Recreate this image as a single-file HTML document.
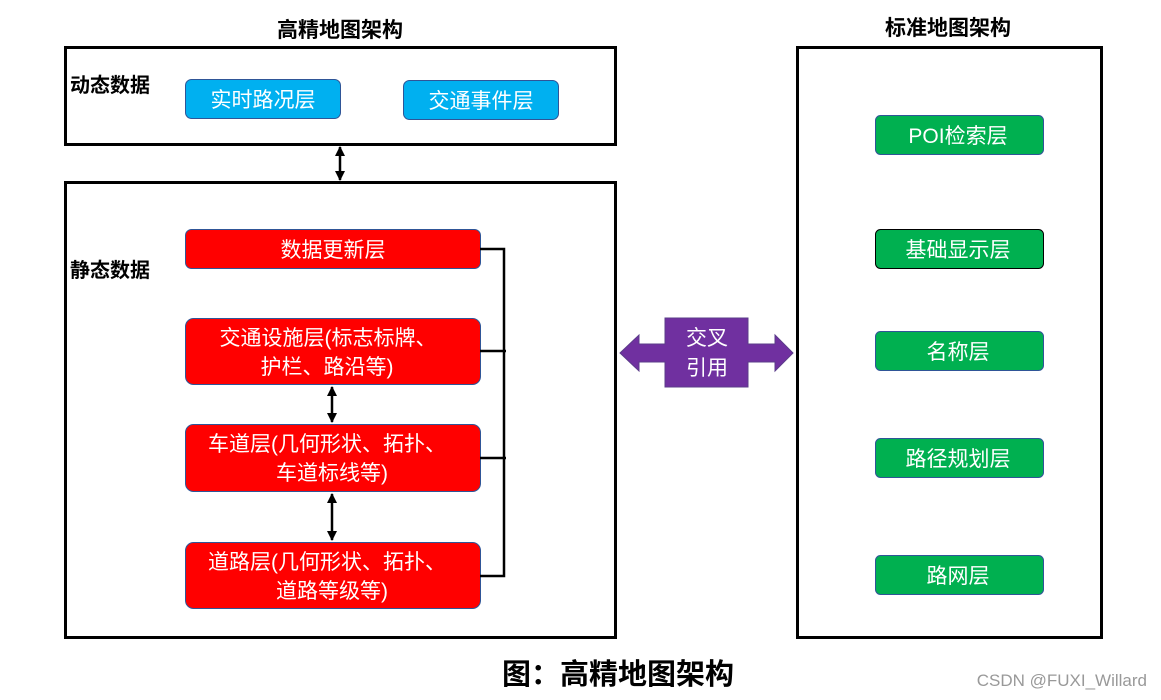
<!DOCTYPE html>
<html><head><meta charset="utf-8"><style>
html,body{margin:0;padding:0;background:#fff;width:1161px;height:700px;overflow:hidden}
svg{display:block}
text{font-family:"Liberation Sans","Noto Sans CJK SC",sans-serif}
</style></head><body>
<svg width="1161" height="700" viewBox="0 0 1161 700" xmlns="http://www.w3.org/2000/svg">
<defs>
<marker id="ah" viewBox="0 0 10 10" refX="9" refY="5" markerWidth="4" markerHeight="4" orient="auto-start-reverse"><path d="M0,0 L10,5 L0,10 z" fill="#000"/></marker>
</defs>
<text x="340" y="37" font-size="21" font-weight="bold" text-anchor="middle">高精地图架构</text>
<text x="948" y="35" font-size="21" font-weight="bold" text-anchor="middle">标准地图架构</text>

<rect x="65.5" y="47.5" width="550" height="97" fill="none" stroke="#000" stroke-width="3"/>
<rect x="65.5" y="182.5" width="550" height="455" fill="none" stroke="#000" stroke-width="3"/>
<rect x="797.5" y="47.5" width="304" height="590" fill="none" stroke="#000" stroke-width="3"/>

<text x="70" y="92" font-size="20" font-weight="bold">动态数据</text>
<text x="70" y="277" font-size="20" font-weight="bold">静态数据</text>

<rect x="185.5" y="79.5" width="155" height="39" rx="6" fill="#00b0f0" stroke="#2f5597"/>
<text x="263" y="107" font-size="21" fill="#fff" text-anchor="middle">实时路况层</text>
<rect x="403.5" y="80.5" width="155" height="39" rx="6" fill="#00b0f0" stroke="#2f5597"/>
<text x="481" y="108" font-size="21" fill="#fff" text-anchor="middle">交通事件层</text>

<line x1="340" y1="147" x2="340" y2="180" stroke="#000" stroke-width="2.5" marker-start="url(#ah)" marker-end="url(#ah)"/>

<g fill="#ff0000" stroke="#2f5597">
<rect x="185.5" y="229.5" width="295" height="39" rx="6"/>
<rect x="185.5" y="318.5" width="295" height="66" rx="8"/>
<rect x="185.5" y="424.5" width="295" height="67" rx="8"/>
<rect x="185.5" y="542.5" width="295" height="66" rx="8"/>
</g>
<g fill="#fff" font-size="21" text-anchor="middle">
<text x="333" y="257">数据更新层</text>
<text x="328" y="345">交通设施层(标志标牌、</text>
<text x="327" y="374">护栏、路沿等)</text>
<text x="327" y="451">车道层(几何形状、拓扑、</text>
<text x="332" y="480">车道标线等)</text>
<text x="327" y="569">道路层(几何形状、拓扑、</text>
<text x="332" y="598">道路等级等)</text>
</g>

<path d="M480,249 H504 V576 H480 M480,351 H506 M480,458 H506" fill="none" stroke="#000" stroke-width="2.5"/>
<line x1="332" y1="387" x2="332" y2="422" stroke="#000" stroke-width="2.5" marker-start="url(#ah)" marker-end="url(#ah)"/>
<line x1="332" y1="494" x2="332" y2="540" stroke="#000" stroke-width="2.5" marker-start="url(#ah)" marker-end="url(#ah)"/>

<path d="M620,353 L639,335 L639,344 L665,344 L665,318 L748,318 L748,344 L775,344 L775,335 L793,353 L775,371 L775,362 L748,362 L748,387 L665,387 L665,362 L639,362 L639,371 Z" fill="#7030a0" stroke="#5b3c8a"/>
<text x="707" y="345" font-size="21" fill="#fff" text-anchor="middle">交叉</text>
<text x="707" y="375" font-size="21" fill="#fff" text-anchor="middle">引用</text>

<g fill="#00b050" stroke="#2f5597">
<rect x="875.5" y="115.5" width="168" height="39" rx="5"/>
<rect x="875.5" y="229.5" width="168" height="39" rx="5" stroke="#000"/>
<rect x="875.5" y="331.5" width="168" height="39" rx="5"/>
<rect x="875.5" y="438.5" width="168" height="39" rx="5"/>
<rect x="875.5" y="555.5" width="168" height="39" rx="5"/>
</g>
<g fill="#fff" font-size="21" text-anchor="middle">
<text x="958" y="143">POI检索层</text>
<text x="958" y="257">基础显示层</text>
<text x="958" y="359">名称层</text>
<text x="958" y="466">路径规划层</text>
<text x="958" y="583">路网层</text>
</g>

<text x="618" y="684" font-size="29" font-weight="bold" text-anchor="middle">图：高精地图架构</text>
<text x="1147" y="686" font-size="17" fill="#999" text-anchor="end">CSDN @FUXI_Willard</text>
</svg>
</body></html>
